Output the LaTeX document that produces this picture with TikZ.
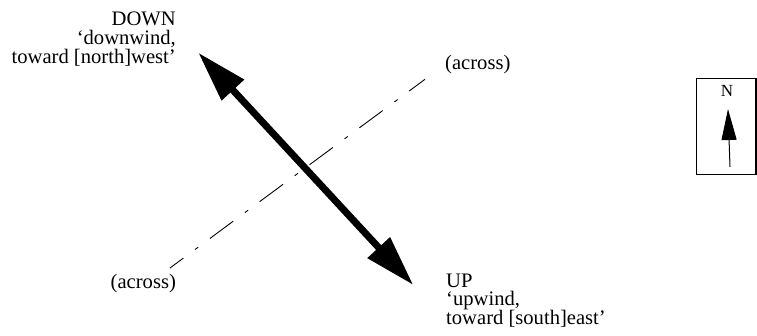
\documentclass[tikz,border=0pt]{standalone}
\usepackage{fontspec}
\setmainfont{Liberation Serif}
\usetikzlibrary{arrows.meta}
\begin{document}
\begin{tikzpicture}[x=1pt,y=-1pt,
  lbl/.style={font=\fontsize{20.6}{18.7}\selectfont, inner sep=0pt},
  wind/.style={line width=7pt, {Triangle[length=51pt,width=29pt]}-{Triangle[length=51pt,width=29pt]}},
  crossline/.style={line width=0.9pt, dash pattern=on 29pt off 14.5pt on 4pt off 14.5pt, dash phase=12.4pt},
  compass/.style={line width=1.2pt},
]
\useasboundingbox (0,0) rectangle (757,336);
\coordinate (nw) at (198.3,52.7);
\coordinate (se) at (413.3,285);
\coordinate (a1) at (170,268);
\coordinate (a2) at (425,79.3);
\draw[crossline] (a1) -- (a2);
\draw[wind] (nw) -- (se);
\node[lbl, align=right, anchor=base east] (down) at (176,63.3) {DOWN\\`downwind,\\toward [north]west'};
\node[lbl, align=left, anchor=base west] (up) at (446,324.5) {UP\\`upwind,\\toward [south]east'};
\node[lbl, anchor=base west] (acrossSW) at (110.5,289) {(across)};
\node[lbl, anchor=base west] (acrossNE) at (445,70) {(across)};
\node[draw, compass, minimum width=59.5pt, minimum height=95.8pt, inner sep=0pt] (cbox) at (726.25,126.4) {};
\node[font=\fontsize{17}{17}\selectfont, inner sep=0pt, anchor=base] (N) at (727,97) {N};
\coordinate (cs) at (730,167);
\coordinate (ct) at (728,109);
\draw[line width=1pt, -{Triangle[length=31pt,width=15pt]}] (cs) -- (ct);
\end{tikzpicture}
\end{document}
